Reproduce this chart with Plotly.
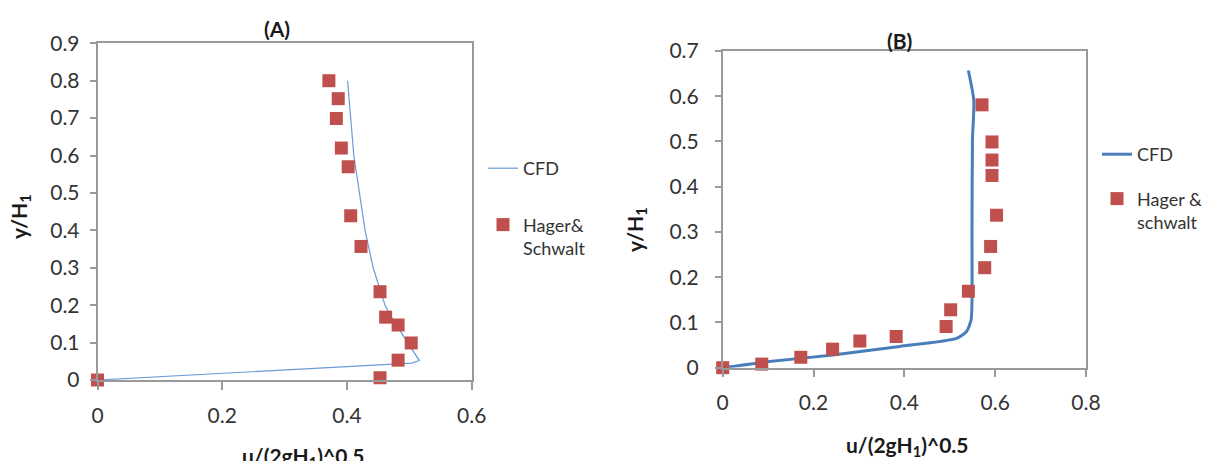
import plotly.graph_objects as go

# ---------------- data ----------------
# Panel A
cfd_a_x = [0.401, 0.406, 0.411, 0.420, 0.429, 0.442, 0.451, 0.461, 0.474, 0.498, 0.509, 0.516, 0.504, 0.300, 0.100, 0.0]
cfd_a_y = [0.800, 0.700, 0.600, 0.500, 0.400, 0.300, 0.250, 0.200, 0.160, 0.100, 0.070, 0.052, 0.045, 0.026, 0.008, 0.0]
hs_a_x = [0.371, 0.386, 0.383, 0.391, 0.402, 0.406, 0.4225, 0.453, 0.462, 0.482, 0.503, 0.482, 0.453, 0.0]
hs_a_y = [0.800, 0.752, 0.699, 0.620, 0.570, 0.439, 0.357, 0.236, 0.168, 0.147, 0.099, 0.053, 0.006, 0.0]

# Panel B
cfd_b_x = [0.0, 0.097, 0.243, 0.390, 0.515, 0.537, 0.547, 0.549, 0.549, 0.550, 0.553, 0.541]
cfd_b_y = [0.0, 0.013, 0.028, 0.047, 0.065, 0.080, 0.106, 0.150, 0.300, 0.505, 0.590, 0.657]
hs_b_x = [0.0, 0.086, 0.172, 0.242, 0.302, 0.382, 0.492, 0.502, 0.541, 0.577, 0.590, 0.603, 0.593, 0.593, 0.593, 0.571]
hs_b_y = [0.0, 0.008, 0.023, 0.041, 0.059, 0.069, 0.091, 0.128, 0.169, 0.221, 0.268, 0.337, 0.425, 0.459, 0.499, 0.581]

x_ticks_a = [0, 0.2, 0.4, 0.6]
y_ticks_a = [0, 0.1, 0.2, 0.3, 0.4, 0.5, 0.6, 0.7, 0.8, 0.9]
x_ticks_b = [0, 0.2, 0.4, 0.6, 0.8]
y_ticks_b = [0, 0.1, 0.2, 0.3, 0.4, 0.5, 0.6, 0.7]

W, H = 1215, 461
FONT = "Lato"
TXT = "#333333"
AX = "#9a9a9a"
RED = "#c0504d"


def px_x(p):
    return p / W


def px_y(p):
    return 1 - p / H


fig = go.Figure()

fig.add_trace(go.Scatter(x=cfd_a_x, y=cfd_a_y, mode="lines", name="CFD",
                         line=dict(color="#6a9bd8", width=1.2),
                         xaxis="x", yaxis="y", legend="legend", legendgroup="a1"))
fig.add_trace(go.Scatter(x=hs_a_x, y=hs_a_y, mode="markers", name="Hager&<br>Schwalt",
                         marker=dict(symbol="square", size=13, color=RED),
                         cliponaxis=False,
                         xaxis="x", yaxis="y", legend="legend", legendgroup="a2"))
fig.add_trace(go.Scatter(x=cfd_b_x, y=cfd_b_y, mode="lines", name="CFD",
                         line=dict(color="#4a7ebb", width=3, shape="spline", smoothing=0.6),
                         xaxis="x2", yaxis="y2", legend="legend2", legendgroup="b1"))
fig.add_trace(go.Scatter(x=hs_b_x, y=hs_b_y, mode="markers", name="Hager &<br>schwalt",
                         marker=dict(symbol="square", size=13, color=RED),
                         cliponaxis=False,
                         xaxis="x2", yaxis="y2", legend="legend2", legendgroup="b2"))

axis_common = dict(showline=True, mirror=True, linecolor=AX, linewidth=1.5,
                   showgrid=False, zeroline=False, ticks="outside", tickcolor=AX,
                   tickwidth=1.5, automargin=False,
                   tickfont=dict(family=FONT, size=21, color=TXT))

fig.update_layout(
    width=W, height=H,
    margin=dict(l=0, r=0, t=0, b=0, autoexpand=False),
    paper_bgcolor="white", plot_bgcolor="white",
    showlegend=True,
    xaxis=dict(domain=[px_x(97.5), px_x(471.7)], range=[0, 0.6], tickvals=x_ticks_a,
               ticktext=[f"{v:g}" for v in x_ticks_a], ticklen=8, ticklabelstandoff=8,
               anchor="y", **axis_common),
    yaxis=dict(domain=[px_y(380), px_y(43.3)], range=[0, 0.9], tickvals=y_ticks_a,
               ticktext=[f"{v:g}" for v in y_ticks_a], ticklen=6, ticklabelstandoff=6,
               anchor="x", **axis_common),
    xaxis2=dict(domain=[px_x(722.7), px_x(1086)], range=[0, 0.8], tickvals=x_ticks_b,
                ticktext=[f"{v:g}" for v in x_ticks_b], ticklen=8, ticklabelstandoff=7,
                anchor="y2", **axis_common),
    yaxis2=dict(domain=[px_y(367.7), px_y(51)], range=[0, 0.7], tickvals=y_ticks_b,
                ticktext=[f"{v:g}" for v in y_ticks_b], ticklen=6, ticklabelstandoff=12,
                anchor="x2", **axis_common),
    legend=dict(x=px_x(483), y=px_y(150), xanchor="left", yanchor="top",
                font=dict(family=FONT, size=18, color=TXT), bgcolor="rgba(0,0,0,0)",
                tracegroupgap=30, valign="top", traceorder="grouped"),
    legend2=dict(x=px_x(1097), y=px_y(136), xanchor="left", yanchor="top",
                 font=dict(family=FONT, size=18, color=TXT), bgcolor="rgba(0,0,0,0)",
                 tracegroupgap=18, valign="top", traceorder="grouped"),
)

ann_font = dict(family=FONT, size=21, color="#1a1a1a")
annotations = [
    dict(text="<b>(A)</b>", x=px_x(277), y=px_y(28)),
    dict(text="<b>(B)</b>", x=px_x(899), y=px_y(40)),
    dict(text="<b>y/H<sub>1</sub></b>", x=px_x(20), y=px_y(217), textangle=-90),
    dict(text="<b>y/H<sub>1</sub></b>", x=px_x(636), y=px_y(230), textangle=-90),
    dict(text="<b>u/(2gH<sub>1</sub>)^0.5</b>", x=px_x(303), y=px_y(457)),
    dict(text="<b>u/(2gH<sub>1</sub>)^0.5</b>", x=px_x(907), y=px_y(446)),
]
for a in annotations:
    a.update(xref="paper", yref="paper", xanchor="center", yanchor="middle",
             showarrow=False, font=ann_font)
fig.update_layout(annotations=annotations)

fig.write_html("out.html", config={"displayModeBar": False},
               post_script="document.body.style.margin='0px';document.body.style.overflow='hidden';")
